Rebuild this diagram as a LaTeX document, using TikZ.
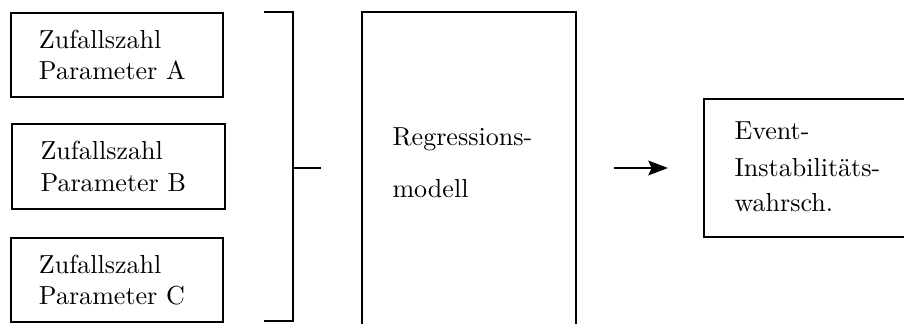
\documentclass[tikz,border=0pt]{standalone}
\usetikzlibrary{arrows.meta}
\begin{document}
\begin{tikzpicture}[x=0.384pt,y=-0.384pt,
  box/.style={draw,line width=1pt,rectangle,inner sep=0pt},
  inbox/.style={box,text width={156*0.384pt},align=left},
  txt/.style={inner sep=0pt,anchor=base west},
  line/.style={line width=1pt},
  arr/.style={line width=1pt,-{Stealth[length=7.5pt,width=5.6pt,inset=1.2pt]}}]
\useasboundingbox (0,0) rectangle (904,324);
\clip (0,0) rectangle (904,324);
% input boxes
\node[inbox,minimum width={212*0.384pt},minimum height={84*0.384pt}] (A) at (117,55) {Zufallszahl\\Parameter A};
\node[inbox,minimum width={213*0.384pt},minimum height={85*0.384pt}] (B) at (118.5,166.5) {Zufallszahl\\Parameter B};
\node[inbox,minimum width={212*0.384pt},minimum height={84*0.384pt}] (C) at (117,280) {Zufallszahl\\Parameter C};
% bracket
\coordinate (bt1) at (264,12);
\coordinate (bt2) at (293,12);
\coordinate (bb2) at (293,321);
\coordinate (bb1) at (264,321);
\coordinate (bm) at (293,168);
\coordinate (bo) at (321,168);
\draw[line] (bt1) -- (bt2) -- (bb2) -- (bb1);
\draw[line] (bm) -- (bo);
% regression model
\node[box,minimum width={214*0.384pt},minimum height={340*0.384pt}] (R) at (469,182) {};
\node[txt] (R1) at (392,146) {Regressions-};
\node[txt] (R2) at (392,198) {modell};
% arrow
\coordinate (a1) at (614,168);
\coordinate (a2) at (668,168);
\draw[arr] (a1) -- (a2);
% output
\node[box,minimum width={226*0.384pt},minimum height={138*0.384pt}] (E) at (817,168) {};
\node[txt] (E1) at (734,140) {Event-};
\node[txt] (E2) at (734,177) {Instabilit\"ats-};
\node[txt] (E3) at (734,212) {wahrsch.};
\end{tikzpicture}
\end{document}
